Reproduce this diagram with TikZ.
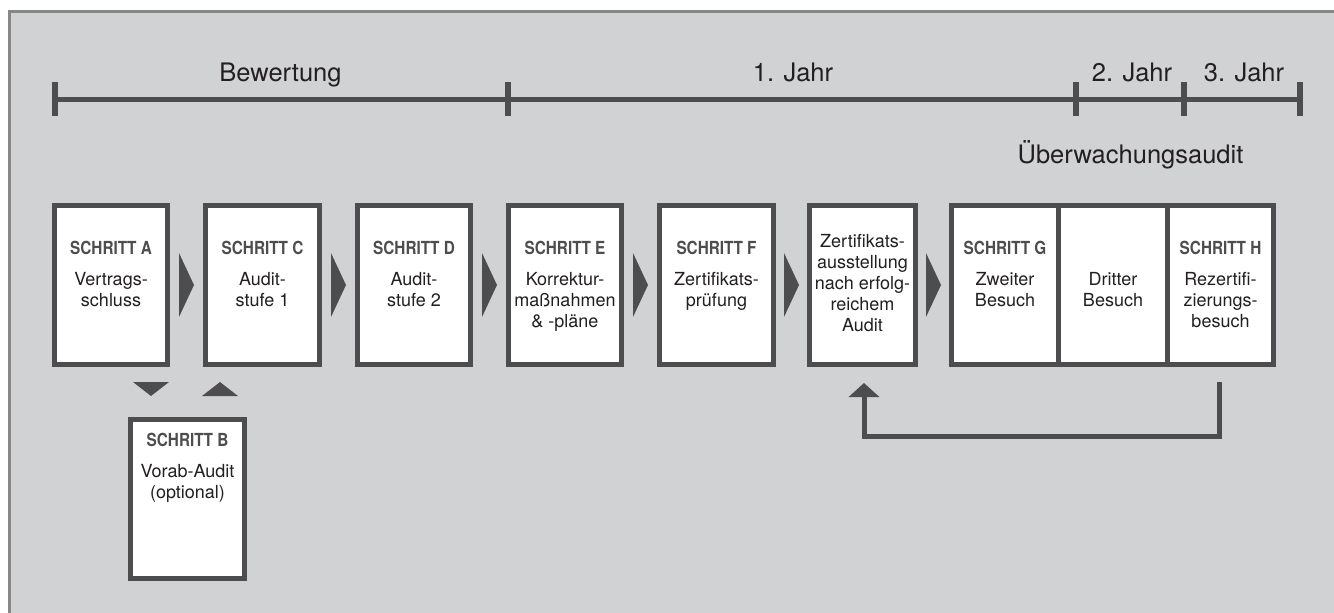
\documentclass[tikz,border=0pt]{standalone}
\usepackage{fontspec}
\setmainfont{TeX Gyre Heros}
\usetikzlibrary{calc,arrows.meta}
\definecolor{bgc}{HTML}{D1D2D4}
\definecolor{dk}{HTML}{4D4D4F}
\definecolor{frm}{HTML}{878787}
\definecolor{txt}{HTML}{231F20}
\newcommand\mlines[1]{\begin{tabular}[t]{@{}c@{}}#1\end{tabular}}
\newcommand\ttl[1]{\scalebox{0.85}[1]{#1}}
\tikzset{
  stepbox/.style={draw=dk, fill=white, line width=5pt, inner sep=0pt},
  lbl/.style={anchor=base, inner sep=0pt, text=txt, font=\fontsize{25.5}{30}\selectfont},
  ttlnode/.style={anchor=base, inner sep=0pt, text=dk, font=\bfseries\fontsize{18}{21}\selectfont},
  bod/.style={anchor=base, inner sep=0pt, text=txt, font=\fontsize{18}{21}\selectfont},
  tl/.style={draw=dk, line width=5pt},
  tick/.style={draw=dk, line width=5.5pt},
  tri/.style={fill=dk},
  fb/.style={draw=dk, line width=5pt, -{Triangle[width=30pt,length=14pt]}},
}
\begin{document}
\begin{tikzpicture}[x=1pt,y=-1pt]
\useasboundingbox (0,0) rectangle (1334,613);
\clip (0,0) rectangle (1334,613);
\fill[bgc] (9.5,11.5) rectangle (1345,625);
\draw[frm, line width=3pt] (1345,11.5) -- (9.5,11.5) -- (9.5,625);
% timeline
\draw[tl] (55,99.5) -- (1300,99.5);
\foreach \x in {55,508,1076,1184,1300} \draw[tick] (\x,82) -- (\x,116);
\node[lbl] (lb1) at (280.5,81) {Bewertung};
\node[lbl] (lb2) at (793,81) {1. Jahr};
\node[lbl] (lb3) at (1132,81) {2. Jahr};
\node[lbl] (lb4) at (1244,81) {3. Jahr};
\node[lbl] (lb5) at (1130.5,163) {Überwachungsaudit};
% boxes
\node[stepbox, minimum width=113pt, minimum height=159pt] (A) at (111,285) {};
\node[stepbox, minimum width=114pt, minimum height=159pt] (C) at (262.5,285) {};
\node[stepbox, minimum width=113pt, minimum height=159pt] (D) at (414,285) {};
\node[stepbox, minimum width=113pt, minimum height=159pt] (E) at (565,285) {};
\node[stepbox, minimum width=114pt, minimum height=159pt] (F) at (716.5,285) {};
\node[stepbox, minimum width=106pt, minimum height=159pt] (Z) at (862.5,285) {};
\node[stepbox, minimum width=107pt, minimum height=159pt] (G) at (1005,285) {};
\node[stepbox, minimum width=109pt, minimum height=159pt] (DB) at (1113,285) {};
\node[stepbox, minimum width=106pt, minimum height=159pt] (H) at (1220.5,285) {};
\node[stepbox, minimum width=114pt, minimum height=159pt] (B) at (187.5,499) {};
% texts
\node[ttlnode] (At) at (111,254) {\ttl{SCHRITT A}};
\node[bod] (Ab) at (111,285) {\mlines{Vertrags-\\schluss}};
\node[ttlnode] (Ct) at (262.5,254) {\ttl{SCHRITT C}};
\node[bod] (Cb) at (262.5,285) {\mlines{Audit-\\stufe 1}};
\node[ttlnode] (Dt) at (414,254) {\ttl{SCHRITT D}};
\node[bod] (Db) at (414,285) {\mlines{Audit-\\stufe 2}};
\node[ttlnode] (Et) at (565,254) {\ttl{SCHRITT E}};
\node[bod] (Eb) at (565,285) {\mlines{Korrektur-\\maßnahmen\\\& -pläne}};
\node[ttlnode] (Ft) at (716.5,254) {\ttl{SCHRITT F}};
\node[bod] (Fb) at (716.5,285) {\mlines{Zertifikats-\\prüfung}};
\node[bod] (Zb) at (862.5,247) {\mlines{Zertifikats-\\ausstellung\\nach erfolg-\\reichem\\Audit}};
\node[ttlnode] (Gt) at (1005,254) {\ttl{SCHRITT G}};
\node[bod] (Gb) at (1005,285) {\mlines{Zweiter\\Besuch}};
\node[bod] (DBb) at (1113,285) {\mlines{Dritter\\Besuch}};
\node[ttlnode] (Ht) at (1220.5,254) {\ttl{SCHRITT H}};
\node[bod] (Hb) at (1220.5,285) {\mlines{Rezertifi-\\zierungs-\\besuch}};
\node[ttlnode] (Bt) at (187.5,446) {\ttl{SCHRITT B}};
\node[bod] (Bb) at (187.5,477) {\mlines{Vorab-Audit\\(optional)}};
% connector triangles
\foreach \p/\q in {A/C,C/D,D/E,E/F,F/Z,Z/G}{
  \coordinate (m) at ($(\p.east)!0.5!(\q.west)$);
  \fill[tri] ($(m)+(-7.5,-32)$) -- ($(m)+(7.5,0)$) -- ($(m)+(-7.5,32)$) -- cycle;
}
\coordinate (dn) at ($(A.south)+(40,0)$);
\fill[tri] ($(dn)+(-18,15)$) -- ($(dn)+(18,15)$) -- ($(dn)+(0,29)$) -- cycle;
\coordinate (up) at ($(C.south)+(-42.5,0)$);
\fill[tri] ($(up)+(-18,29)$) -- ($(up)+(18,29)$) -- ($(up)+(0,15)$) -- cycle;
% feedback
\coordinate (fbs) at ($(H.south)+(-1.5,15)$);
\coordinate (fbe) at ($(Z.south)+(1.5,16)$);
\draw[fb] (fbs) -- ++(0,54.5) -| (fbe);
\end{tikzpicture}
\end{document}
